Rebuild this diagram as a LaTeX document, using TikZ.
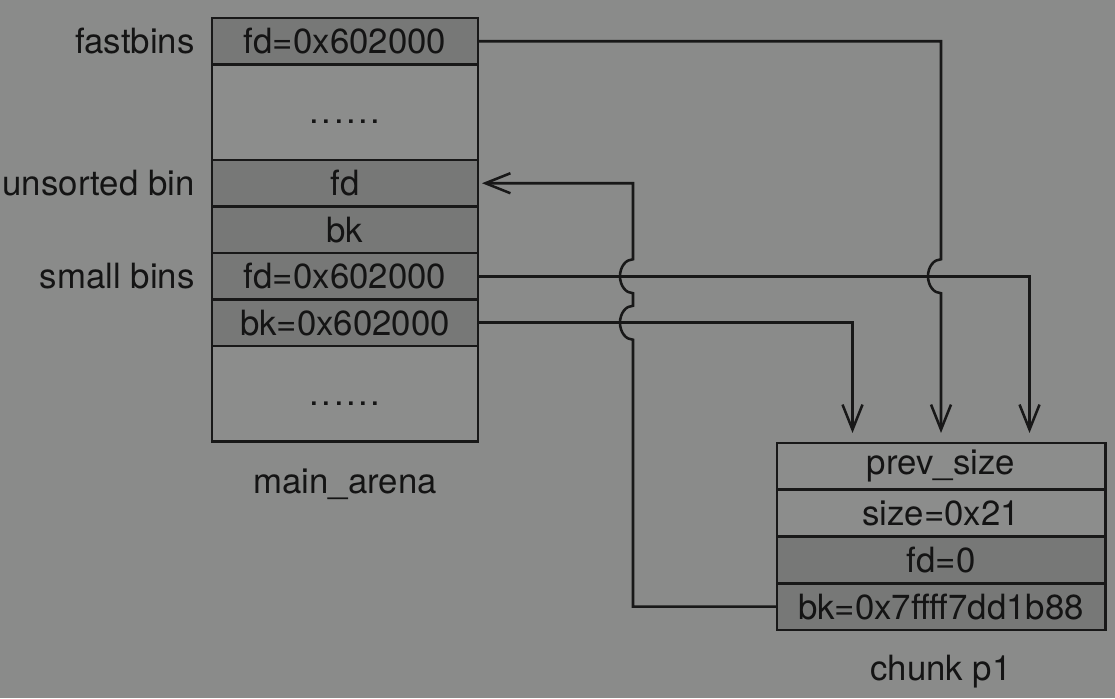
\documentclass[tikz,border=0pt]{standalone}
\usepackage{fontspec}
\setmainfont{TeX Gyre Heros}
\newfontfamily\dotfont[LetterSpace=7]{TeX Gyre Heros}
\usetikzlibrary{positioning,calc,arrows.meta}
\definecolor{bggray}{RGB}{138,139,138}
\definecolor{lightcell}{RGB}{140,141,140}
\definecolor{darkcell}{RGB}{119,120,119}
\definecolor{linegray}{RGB}{24,24,24}
\definecolor{inkgray}{RGB}{20,20,20}

\begin{document}
\begin{tikzpicture}[node distance=0pt,font=\fontsize{19.8}{23}\selectfont]
\tikzstyle{cell}=[rectangle,draw=linegray,line width=1.7pt,fill=lightcell,text=inkgray,outer sep=0pt,inner sep=0pt,minimum width=5.32cm,minimum height=0.93cm]
\tikzstyle{dark}=[cell,fill=darkcell]
\tikzstyle{tall}=[cell,minimum height=1.91cm,font=\fontsize{19.8}{23}\dotfont,text height=0.47cm,text depth=0pt]
\tikzstyle{wide}=[cell,minimum width=6.56cm,minimum height=0.935cm]
\tikzstyle{tag}=[text=inkgray,inner sep=0pt]
\tikzstyle{link}=[draw=linegray,line width=1.45pt,-{Straight Barb[length=0.5cm,width=0.4cm]}]

\fill[bggray] (0,0) rectangle (22.30,13.96);
\useasboundingbox (0,0) rectangle (22.30,13.96);

\node[dark] (fb) at (6.90,13.135) {fd=0x602000};
\node[tall,below=of fb] (dotsa) {......};
\node[dark,below=of dotsa] (ufd) {fd};
\node[dark,below=of ufd] (ubk) {bk};
\node[dark,below=of ubk] (sfd) {fd=0x602000};
\node[dark,below=of sfd] (sbk) {bk=0x602000};
\node[tall,below=of sbk] (dotsb) {......};

\node[tag,left=0.34cm of fb] (lfast) {fastbins};
\node[tag,left=0.34cm of ufd] (lunsorted) {unsorted bin};
\node[tag,left=0.34cm of sfd] (lsmall) {small bins};
\node[tag,below=0.54cm of dotsb] (arena) {main\_arena};

\node[wide] (prev) at (18.82,4.6325) {prev\_size};
\node[wide,below=of prev] (size) {size=0x21};
\node[wide,fill=darkcell,below=of size] (cfd) {fd=0};
\node[wide,fill=darkcell,below=of cfd] (cbk) {bk=0x7ffff7dd1b88};
\node[tag,below=0.5cm of cbk] (chunk) {chunk p1};

\draw[link] (fb.east) -| ($(prev.north |- sfd.east)+(0,0.34)$) arc[start angle=90,end angle=270,x radius=0.26,y radius=0.34] -- ([yshift=0.2cm]prev.north);
\draw[link] (sfd.east) -| ([xshift=1.77cm,yshift=0.2cm]prev.north);
\draw[link] (sbk.east) -| ([xshift=-1.77cm,yshift=0.2cm]prev.north);
\coordinate (turn) at ($(cbk.west)+(-2.88,0)$);
\draw[link] (cbk.west) -- (turn) -- ($(turn |- sbk.east)+(0,-0.34)$) arc[start angle=270,end angle=90,x radius=0.26,y radius=0.34] -- ($(turn |- sfd.east)+(0,-0.34)$) arc[start angle=270,end angle=90,x radius=0.26,y radius=0.34] |- ([xshift=0.08cm]ufd.east);
\end{tikzpicture}
\end{document}
